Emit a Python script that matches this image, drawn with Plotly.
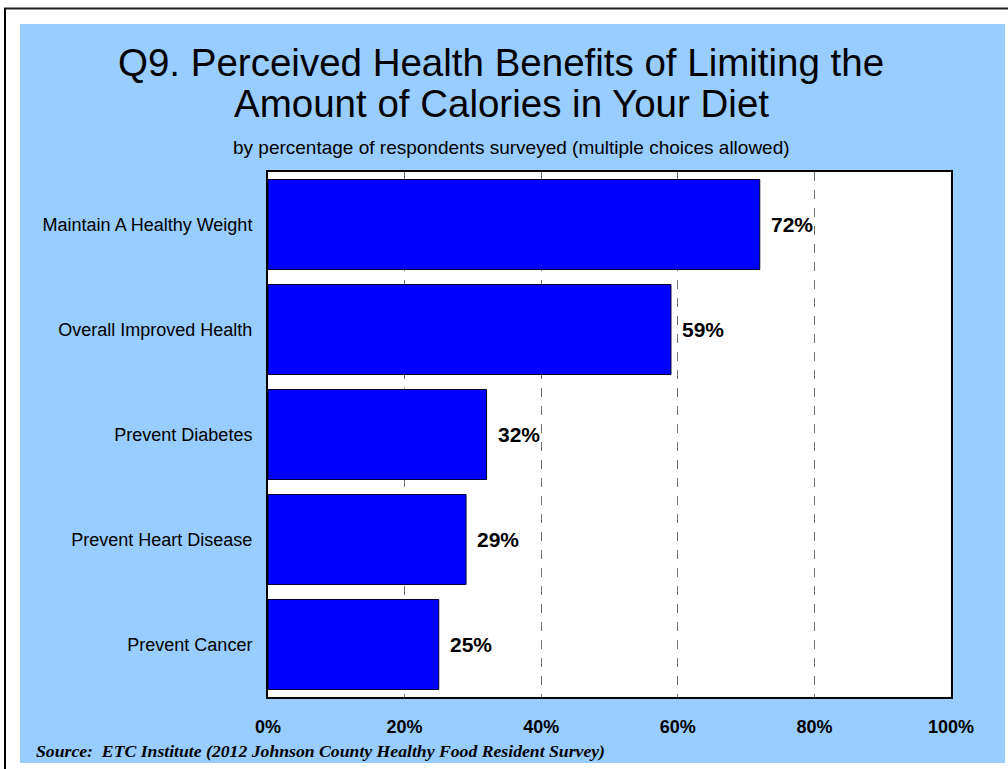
import plotly.graph_objects as go

# Survey responses (percent of respondents)
categories = [
    "Maintain A Healthy Weight",
    "Overall Improved Health",
    "Prevent Diabetes",
    "Prevent Heart Disease",
    "Prevent Cancer",
]
percents = [72, 59, 32, 29, 25]
tick_values = [0, 20, 40, 60, 80, 100]
tick_labels = ["0%", "20%", "40%", "60%", "80%", "100%"]

# Plot area in pixels (paper is 1008 x 769)
PL, PR, PT, PB = 268, 951, 172, 697
PW, PH = PR - PL, PB - PT


def px(x):
    return (x - PL) / PW


def py(y):
    return (PB - y) / PH


SANS = "Liberation Sans, Arial, Helvetica"

fig = go.Figure()

fig.add_trace(go.Bar(
    x=percents,
    y=categories,
    orientation="h",
    marker=dict(color="#0000FF", line=dict(color="#000033", width=1)),
    hoverinfo="skip",
))

# Value labels just right of each bar end
for cat, val in zip(categories, percents):
    fig.add_annotation(
        x=val, y=cat, xref="x", yref="y",
        text=f"<b>{val}%</b>", showarrow=False,
        xanchor="left", xshift=9,
        font=dict(family=SANS, size=21, color="black"),
    )

# Light blue panel, white plotting area and the outer frame lines
fig.add_shape(type="rect", xref="paper", yref="paper",
              x0=px(20), x1=px(1005), y0=py(763), y1=py(24),
              fillcolor="#99CCFF", line=dict(width=0), layer="below")
fig.add_shape(type="rect", xref="paper", yref="paper",
              x0=0, x1=1, y0=0, y1=1,
              fillcolor="white", line=dict(width=0), layer="below")
fig.add_shape(type="line", xref="paper", yref="paper",
              x0=px(4), x1=px(1012), y0=py(8.5), y1=py(8.5),
              line=dict(color="#222222", width=2))
fig.add_shape(type="line", xref="paper", yref="paper",
              x0=px(5), x1=px(5), y0=py(8.5), y1=py(775),
              line=dict(color="black", width=2))

# Title (two lines), subtitle and source note
fig.add_annotation(
    xref="paper", yref="paper", x=px(501), y=py(62),
    text="Q9. Perceived Health Benefits of Limiting the",
    showarrow=False, xanchor="center", yanchor="middle",
    font=dict(family=SANS, size=38.5, color="black"),
)
fig.add_annotation(
    xref="paper", yref="paper", x=px(501), y=py(104),
    text="Amount of Calories in Your Diet",
    showarrow=False, xanchor="center", yanchor="middle",
    font=dict(family=SANS, size=38.5, color="black"),
)
fig.add_annotation(
    xref="paper", yref="paper", x=px(511), y=py(148),
    text="by percentage of respondents surveyed (multiple choices allowed)",
    showarrow=False, xanchor="center", yanchor="middle",
    font=dict(family=SANS, size=19, color="black"),
)
fig.add_annotation(
    xref="paper", yref="paper", x=px(34), y=py(751),
    text="<b><i>Source:  ETC Institute (2012 Johnson County Healthy Food Resident Survey)</i></b>",
    showarrow=False, xanchor="left", yanchor="middle",
    font=dict(family="Liberation Serif, Times New Roman", size=17.7, color="black"),
)

fig.update_layout(
    width=1008, height=769,
    margin=dict(l=PL, r=1008 - PR, t=PT, b=769 - PB),
    paper_bgcolor="white",
    plot_bgcolor="white",
    bargap=0.143,
    showlegend=False,
    xaxis=dict(
        range=[0, 100],
        tickvals=tick_values,
        ticktext=[f"<b>{t}</b>" for t in tick_labels],
        tickfont=dict(family=SANS, size=18, color="black"),
        showgrid=True, gridcolor="#707070", gridwidth=1, griddash="dash",
        showline=True, linecolor="black", linewidth=2, mirror=True,
        zeroline=False, ticks="", ticklabelstandoff=12,
        fixedrange=True,
    ),
    yaxis=dict(
        categoryorder="array", categoryarray=categories,
        autorange="reversed",
        tickfont=dict(family=SANS, size=18, color="black"),
        showline=True, linecolor="black", linewidth=2, mirror=True,
        showgrid=False, zeroline=False, ticks="", ticklabelstandoff=10,
        fixedrange=True,
    ),
)

fig.write_html("out.html")
